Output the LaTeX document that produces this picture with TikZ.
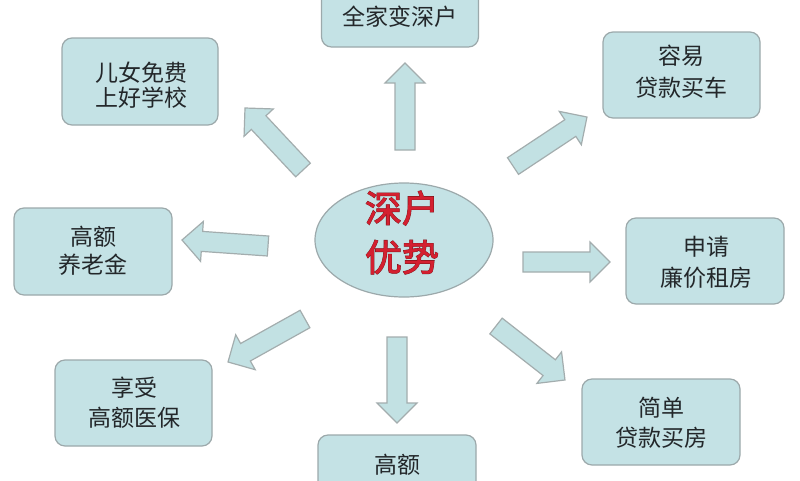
\documentclass[tikz,border=0pt]{standalone}
\usepackage{fontspec}
\newfontfamily\cjk{Noto Sans CJK SC}
\newfontfamily\cjkbold[FakeBold=1.2]{Noto Sans CJK SC}
\newfontfamily\cjkoutline[FakeBold=3]{Noto Sans CJK SC}
\usetikzlibrary{calc,shapes.geometric}
\definecolor{boxfill}{HTML}{C4E2E5}
\definecolor{boxline}{HTML}{9CA9AB}
\definecolor{arrfill}{HTML}{C2E1E3}
\definecolor{arrline}{HTML}{A3ADAE}
\definecolor{hlred}{HTML}{D42030}
\definecolor{hldark}{HTML}{6A1418}
\definecolor{txtgray}{HTML}{23272A}
\tikzset{
  infobox/.style={rectangle, rounded corners=10pt, draw=boxline, fill=boxfill,
    line width=1.2pt, minimum width=#1, minimum height=86pt, inner sep=0pt},
  infobox/.default=157pt,
  infotext/.style={align=center, text=txtgray, inner sep=0pt,
    font=\cjk\fontsize{23}{#1}\selectfont},
  infotext/.default=30,
  arrowshape/.style={draw=arrline, fill=arrfill, line width=1.2pt, line join=miter},
  centre/.style={ellipse, draw=boxline, fill=boxfill, line width=1.2pt,
    minimum width=178pt, minimum height=114pt, inner sep=0pt},
  centretext/.style={align=center, inner sep=0pt, font=#1\fontsize{37}{49}\selectfont},
}
\newcommand\blockarrow[2]{%
  \path let \p1=(#1), \p2=(#2) in \pgfextra{%
    \pgfmathsetmacro\myArrAng{atan2(\y2-\y1,\x2-\x1)}%
    \pgfmathsetmacro\myArrLen{veclen(\x2-\x1,\y2-\y1)}%
    \pgfmathsetmacro\myArrHb{\myArrLen-20}%
    \xdef\myArrAng{\myArrAng}\xdef\myArrLen{\myArrLen}\xdef\myArrHb{\myArrHb}};
  \draw[arrowshape, shift={(#1)}, rotate=\myArrAng]
    (0pt,-10pt) -- (\myArrHb pt,-10pt) -- (\myArrHb pt,-20pt) -- (\myArrLen pt,0pt)
    -- (\myArrHb pt,20pt) -- (\myArrHb pt,10pt) -- (0pt,10pt) -- cycle;}
\begin{document}
\begin{tikzpicture}[x=1pt,y=-1pt]
\useasboundingbox (0,0) rectangle (800,480);
\fill[white] (0,0) rectangle (800,480);
\clip (0,0) rectangle (800,480);

% boxes
\node[infobox, minimum height=87pt] (btop) at (400,3.5) {};
\node[infotext] (ttop) at (400,17) {全家变深户};

\node[infobox=156pt, minimum height=87pt] (bschool) at (140,81.5) {};
\node[infotext=25] (tschool) at (141,85.5) {儿女免费\\上好学校};

\node[infobox] (bcar) at (681.5,75) {};
\node[infotext=32] (tcar) at (681.5,72) {容易\\贷款买车};

\node[infobox=158pt, minimum height=87pt] (bpension) at (93,251.5) {};
\node[infotext=28] (tpension) at (93,251) {高额\\养老金};

\node[infobox=158pt] (brent) at (705,261) {};
\node[infotext=31] (trent) at (706,262.5) {申请\\廉价租房};

\node[infobox] (bmed) at (133.5,403) {};
\node[infotext=30] (tmed) at (134,403) {享受\\高额医保};

\node[infobox=158pt] (bhouse) at (661,422) {};
\node[infotext=30] (thouse) at (661,423) {简单\\贷款买房};

\node[infobox=158pt] (bbottom) at (397,478) {};
\node[infotext] (tbottom) at (397,465) {高额};

% centre
\node[centre] (centre) at (404,240) {};
\node[centretext=\cjkoutline, text=hldark] (cshadow) at (402,232.5) {深户\\优势};
\node[centretext=\cjkbold, text=hlred] (ctext) at (402,232.5) {深户\\优势};

% arrow end points
\coordinate (aUs) at (405,150);  \coordinate (aUe) at (405,63);
\coordinate (aDs) at (397,337);  \coordinate (aDe) at (397,423);
\coordinate (aLs) at (268,246);  \coordinate (aLe) at (182,240);
\coordinate (aRs) at (523,262);  \coordinate (aRe) at (610,262);
\coordinate (aULs) at (303,170); \coordinate (aULe) at (245,108);
\coordinate (aURs) at (513,166); \coordinate (aURe) at (587,117);
\coordinate (aDLs) at (305,319); \coordinate (aDLe) at (228,362);
\coordinate (aDRs) at (496,326); \coordinate (aDRe) at (565,380);

\blockarrow{aUs}{aUe}
\blockarrow{aDs}{aDe}
\blockarrow{aLs}{aLe}
\blockarrow{aRs}{aRe}
\blockarrow{aULs}{aULe}
\blockarrow{aURs}{aURe}
\blockarrow{aDLs}{aDLe}
\blockarrow{aDRs}{aDRe}
\end{tikzpicture}
\end{document}
